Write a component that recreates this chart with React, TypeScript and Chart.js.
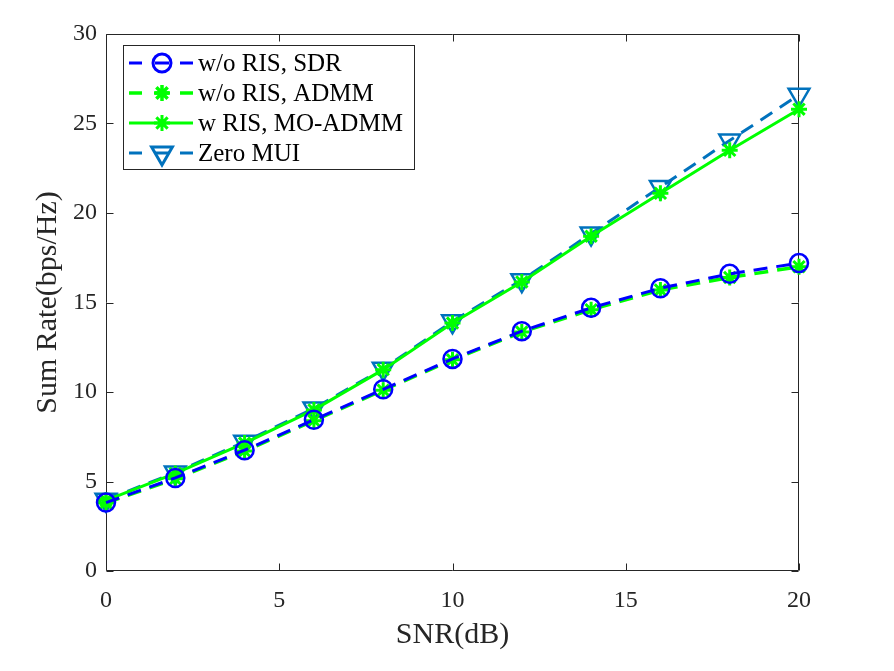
import React, { useEffect, useRef } from 'react';
import { Chart, registerables } from 'chart.js';
import { drawPoint } from 'chart.js/helpers';

Chart.register(...registerables);

const snr = [0, 2, 4, 6, 8, 10, 12, 14, 16, 18, 20];
const sdrWoRis = [3.82, 5.2, 6.75, 8.45, 10.15, 11.85, 13.4, 14.7, 15.8, 16.6, 17.2];
const admmWoRis = [3.8, 5.15, 6.7, 8.4, 10.1, 11.8, 13.35, 14.6, 15.7, 16.4, 17.0];
const moAdmmWRis = [3.95, 5.45, 7.15, 9.0, 11.25, 13.85, 16.15, 18.7, 21.1, 23.5, 25.8];
const zeroMui = [3.98, 5.5, 7.22, 9.08, 11.3, 13.95, 16.25, 18.85, 21.45, 24.05, 26.6];
const xTicks = [0, 5, 10, 15, 20];
const yTicks = [0, 5, 10, 15, 20, 25, 30];
const seriesLabels = ['w/o RIS, SDR', 'w/o RIS, ADMM', 'w RIS, MO-ADMM', 'Zero MUI'];
const xTitle = 'SNR(dB)';
const yTitle = 'Sum Rate(bps/Hz)';

const FONT = '"Liberation Serif", "Times New Roman", serif';
const AXIS = '#262626';

const toPts = (ys: number[]) => ys.map((y, i) => ({ x: snr[i], y }));

const boxPlugin = {
  id: 'matlabBox',
  beforeDatasetsDraw(chart: any) {
    const { ctx, chartArea, scales } = chart;
    const { left, right, top, bottom } = chartArea;
    const L = Math.round(left) + 0.5;
    const R = Math.round(right) - 0.5;
    const T = Math.round(top) + 0.5;
    const B = Math.round(bottom) - 0.5;
    const len = 7;
    ctx.save();
    ctx.strokeStyle = AXIS;
    ctx.lineWidth = 1;
    ctx.beginPath();
    ctx.rect(L, T, R - L, B - T);
    xTicks.forEach((v) => {
      const px = Math.round(scales.x.getPixelForValue(v)) + 0.5;
      ctx.moveTo(px, B);
      ctx.lineTo(px, B - len);
      ctx.moveTo(px, T);
      ctx.lineTo(px, T + len);
    });
    yTicks.forEach((v) => {
      const py = Math.round(scales.y.getPixelForValue(v)) + 0.5;
      ctx.moveTo(L, py);
      ctx.lineTo(L + len, py);
      ctx.moveTo(R, py);
      ctx.lineTo(R - len, py);
    });
    ctx.stroke();
    ctx.restore();
  },
};

const legendPlugin = {
  id: 'matlabLegend',
  afterDatasetsDraw(chart: any) {
    const { ctx, chartArea } = chart;
    const lx = Math.round(chartArea.left) + 17;
    const ly = Math.round(chartArea.top) + 11;
    const w = 291;
    const h = 124;
    ctx.save();
    ctx.fillStyle = '#ffffff';
    ctx.fillRect(lx, ly, w, h);
    ctx.strokeStyle = AXIS;
    ctx.lineWidth = 1;
    ctx.strokeRect(lx + 0.5, ly + 0.5, w, h);
    chart.data.datasets.forEach((ds: any, i: number) => {
      const cy = ly + 18 + i * 30;
      const x0 = lx + 6;
      const x1 = lx + 70;
      const mx = lx + 39;
      ctx.strokeStyle = ds.borderColor;
      ctx.lineWidth = ds.borderWidth;
      ctx.setLineDash([]);
      ctx.beginPath();
      if (ds.borderDash && ds.borderDash.length) {
        ctx.moveTo(x0, cy);
        ctx.lineTo(x0 + 13, cy);
        ctx.moveTo(mx - 7, cy);
        ctx.lineTo(mx + 7, cy);
        ctx.moveTo(x1 - 13, cy);
        ctx.lineTo(x1, cy);
      } else {
        ctx.moveTo(x0, cy);
        ctx.lineTo(x1, cy);
      }
      ctx.stroke();
      ctx.strokeStyle = ds.pointBorderColor;
      ctx.fillStyle = 'rgba(0,0,0,0)';
      drawPoint(
        ctx,
        {
          pointStyle: ds.pointStyle,
          radius: ds.pointRadius,
          rotation: ds.pointRotation || 0,
          borderWidth: ds.pointBorderWidth,
        } as any,
        mx,
        cy
      );
      ctx.fillStyle = '#000000';
      ctx.font = `25px ${FONT}`;
      ctx.textAlign = 'left';
      ctx.textBaseline = 'middle';
      ctx.fillText(seriesLabels[i], lx + 75, cy + 1);
    });
    ctx.restore();
  },
};

export default function App() {
  const ref = useRef<HTMLCanvasElement | null>(null);

  useEffect(() => {
    document.body.style.margin = '0';
    const canvas = ref.current;
    if (!canvas) return;
    const chart = new Chart(canvas, {
      type: 'line',
      data: {
        datasets: [
          {
            label: seriesLabels[0],
            data: toPts(sdrWoRis),
            borderColor: '#0000ff',
            borderWidth: 3,
            borderDash: [14, 9],
            pointStyle: 'circle',
            pointRadius: 9,
            pointBorderWidth: 2.5,
            pointBorderColor: '#0000ff',
            pointBackgroundColor: 'rgba(0,0,0,0)',
            fill: false,
            clip: false,
          },
          {
            label: seriesLabels[1],
            data: toPts(admmWoRis),
            borderColor: '#00ff00',
            borderWidth: 3.5,
            borderDash: [14, 9],
            pointStyle: 'star',
            pointRadius: 8,
            pointBorderWidth: 3,
            pointBorderColor: '#00ff00',
            pointBackgroundColor: 'rgba(0,0,0,0)',
            fill: false,
            clip: false,
          },
          {
            label: seriesLabels[2],
            data: toPts(moAdmmWRis),
            borderColor: '#00ff00',
            borderWidth: 3,
            pointStyle: 'star',
            pointRadius: 8,
            pointBorderWidth: 3,
            pointBorderColor: '#00ff00',
            pointBackgroundColor: 'rgba(0,0,0,0)',
            fill: false,
            clip: false,
          },
          {
            label: seriesLabels[3],
            data: toPts(zeroMui),
            borderColor: '#0072bd',
            borderWidth: 3,
            borderDash: [14, 9],
            pointStyle: 'triangle',
            pointRotation: 180,
            pointRadius: 12,
            pointBorderWidth: 2.5,
            pointBorderColor: '#0072bd',
            pointBackgroundColor: 'rgba(0,0,0,0)',
            fill: false,
            clip: false,
          },
        ] as any,
      },
      options: {
        animation: false,
        responsive: false,
        devicePixelRatio: 1,
        layout: { padding: { top: 34, right: 95, left: 0, bottom: 0 } },
        plugins: {
          legend: { display: false },
          tooltip: { enabled: false },
        },
        scales: {
          x: {
            type: 'linear',
            position: 'bottom',
            min: 0,
            max: 20,
            grid: { display: false, drawTicks: false },
            border: { display: false },
            ticks: {
              font: { family: FONT, size: 24 },
              color: AXIS,
              padding: 15,
              maxRotation: 0,
              autoSkip: false,
            },
            afterBuildTicks: (s: any) => {
              s.ticks = xTicks.map((v) => ({ value: v }));
            },
            afterFit: (s: any) => {
              s.height = 100;
            },
            title: {
              display: true,
              text: xTitle,
              color: AXIS,
              font: { family: FONT, size: 30 },
              padding: { top: 0, bottom: 18 },
            },
          },
          y: {
            type: 'linear',
            min: 0,
            max: 30,
            grid: { display: false, drawTicks: false },
            border: { display: false },
            ticks: {
              font: { family: FONT, size: 24 },
              color: AXIS,
              padding: 9,
              autoSkip: false,
            },
            afterBuildTicks: (s: any) => {
              s.ticks = yTicks.map((v) => ({ value: v }));
            },
            afterFit: (s: any) => {
              s.width = 106;
            },
            title: {
              display: true,
              text: yTitle,
              color: AXIS,
              font: { family: FONT, size: 30 },
              padding: { top: 30, bottom: 0 },
            },
          },
        },
      } as any,
      plugins: [boxPlugin, legendPlugin],
    });
    return () => chart.destroy();
  }, []);

  return (
    <div style={{ position: 'absolute', left: 0, top: 0, width: 894, height: 671, background: '#ffffff' }}>
      <canvas ref={ref} width={894} height={671} style={{ width: 894, height: 671, display: 'block' }} />
    </div>
  );
}
